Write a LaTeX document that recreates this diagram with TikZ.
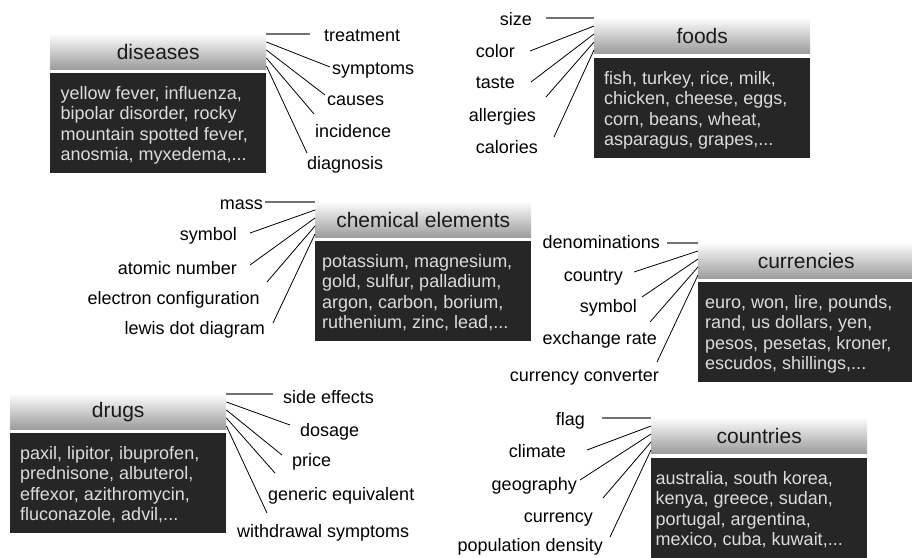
\documentclass[tikz,border=0pt]{standalone}
\usepackage{fontspec}
\setmainfont{Liberation Sans}
\definecolor{hdrtop}{HTML}{FCFCFC}
\definecolor{hdrbot}{HTML}{9C9C9C}
\definecolor{bodydark}{HTML}{262626}
\definecolor{bodylight}{HTML}{DCDCDC}
\definecolor{titlecol}{HTML}{1A1A1A}
\begin{document}
\begin{tikzpicture}[x=1pt,y=-1pt,
  hdr/.style={anchor=north west, minimum width=216pt, minimum height=35pt,
    inner sep=0pt, top color=hdrtop, bottom color=hdrbot, text=titlecol,
    font=\fontsize{21}{24}\selectfont},
  bodybox/.style={anchor=north west, minimum width=216pt, minimum height=100pt,
    inner sep=0pt, fill=bodydark},
  bodytext/.style={anchor=north west, inner sep=0pt, align=left, text=bodylight,
    font=\fontsize{18}{20.5}\selectfont},
  attr/.style={inner sep=0pt, text=black, font=\fontsize{18}{20}\selectfont},
  attrL/.style={attr, anchor=mid east},
  attrR/.style={attr, anchor=mid west},
  lead/.style={draw=black, line width=0.8pt},
  toplead/.style={draw=black!55, line width=1.4pt},
]
\useasboundingbox (0,0) rectangle (912,557);

% ---------- diseases ----------
\node[hdr] (dis-h) at (50,34) {diseases};
\node[bodybox] (dis-b) at (50,73) {};
\node[bodytext] (dis-t) at ([shift={(10.5pt,-12.8pt)}]dis-b.north west)
  {yellow fever, influenza,\\bipolar disorder, rocky\\mountain spotted fever,\\anosmia, myxedema,...};
\node[attrR] (dis-a1) at (324,39) {treatment};
\node[attrR] (dis-a2) at (332,72) {symptoms};
\node[attrR] (dis-a3) at (327,103) {causes};
\node[attrR] (dis-a4) at (315,135) {incidence};
\node[attrR] (dis-a5) at (307,167) {diagnosis};
\draw[toplead] (dis-h.north east) -- ++(44pt,0);
\draw[lead] ([yshift=-8pt]dis-h.north east) -- ([shift={(-2pt,5pt)}]dis-a2.mid west);
\draw[lead] ([yshift=-16pt]dis-h.north east) -- ([shift={(-2pt,8pt)}]dis-a3.mid west);
\draw[lead] ([yshift=-24pt]dis-h.north east) -- ([shift={(-1pt,21pt)}]dis-a4.mid west);
\draw[lead] ([yshift=-32pt]dis-h.north east) -- ([shift={(0pt,14pt)}]dis-a5.mid west);

% ---------- foods ----------
\node[hdr] (foo-h) at (594,18) {foods};
\node[bodybox] (foo-b) at (594,58) {};
\node[bodytext] (foo-t) at ([shift={(10pt,-12.8pt)}]foo-b.north west)
  {fish, turkey, rice, milk,\\chicken, cheese, eggs,\\corn, beans, wheat,\\asparagus, grapes,...};
\node[attrL] (foo-a1) at (532,23) {size};
\node[attrL] (foo-a2) at (515,55) {color};
\node[attrL] (foo-a3) at (515,86) {taste};
\node[attrL] (foo-a4) at (536,119) {allergies};
\node[attrL] (foo-a5) at (538,151) {calories};
\draw[toplead] (foo-h.north west) -- ++(-48pt,0);
\draw[lead] ([yshift=-8pt]foo-h.north west) -- ([shift={(15pt,4pt)}]foo-a2.mid east);
\draw[lead] ([yshift=-16pt]foo-h.north west) -- ([shift={(16pt,4pt)}]foo-a3.mid east);
\draw[lead] ([yshift=-24pt]foo-h.north west) -- ([shift={(10pt,22pt)}]foo-a4.mid east);
\draw[lead] ([yshift=-32pt]foo-h.north west) -- ([shift={(16pt,14pt)}]foo-a5.mid east);

% ---------- chemical elements ----------
\node[hdr] (che-h) at (315,202) {chemical elements};
\node[bodybox] (che-b) at (315,241) {};
\node[bodytext] (che-t) at ([shift={(7pt,-12.8pt)}]che-b.north west)
  {potassium, magnesium,\\gold, sulfur, palladium,\\argon, carbon, borium,\\ruthenium, zinc, lead,...};
\node[attrL] (che-a1) at (263,207) {mass};
\node[attrL] (che-a2) at (237,238) {symbol};
\node[attrL] (che-a3) at (237,272) {atomic number};
\node[attrL] (che-a4) at (260,302) {electron configuration};
\node[attrL] (che-a5) at (265,332) {lewis dot diagram};
\draw[toplead] (che-h.north west) -- ++(-50pt,0);
\draw[lead] ([yshift=-8pt]che-h.north west) -- ([shift={(13pt,5pt)}]che-a2.mid east);
\draw[lead] ([yshift=-16pt]che-h.north west) -- ([shift={(13pt,7pt)}]che-a3.mid east);
\draw[lead] ([yshift=-24pt]che-h.north west) -- ([shift={(7pt,20pt)}]che-a4.mid east);
\draw[lead] ([yshift=-32pt]che-h.north west) -- ([shift={(8pt,9pt)}]che-a5.mid east);

% ---------- currencies ----------
\node[hdr] (cur-h) at (698,243) {currencies};
\node[bodybox] (cur-b) at (698,282) {};
\node[bodytext] (cur-t) at ([shift={(7pt,-12.8pt)}]cur-b.north west)
  {euro, won, lire, pounds,\\rand, us dollars, yen,\\pesos, pesetas, kroner,\\escudos, shillings,...};
\node[attrL] (cur-a1) at (660,246) {denominations};
\node[attrL] (cur-a2) at (623,279) {country};
\node[attrL] (cur-a3) at (637,310) {symbol};
\node[attrL] (cur-a4) at (657,342) {exchange rate};
\node[attrL] (cur-a5) at (659,379) {currency converter};
\draw[toplead] (cur-h.north west) -- ++(-31pt,0);
\draw[lead] ([yshift=-8pt]cur-h.north west) -- ([shift={(11pt,7pt)}]cur-a2.mid east);
\draw[lead] ([yshift=-16pt]cur-h.north west) -- ([shift={(5pt,13pt)}]cur-a3.mid east);
\draw[lead] ([yshift=-24pt]cur-h.north west) -- ([shift={(-7pt,20pt)}]cur-a4.mid east);
\draw[lead] ([yshift=-32pt]cur-h.north west) -- ([shift={(-2pt,17pt)}]cur-a5.mid east);

% ---------- drugs ----------
\node[hdr] (dru-h) at (10,394) {drugs};
\node[bodybox] (dru-b) at (10,433) {};
\node[bodytext] (dru-t) at ([shift={(10pt,-12.8pt)}]dru-b.north west)
  {paxil, lipitor, ibuprofen,\\prednisone, albuterol,\\effexor, azithromycin,\\fluconazole, advil,...};
\node[attrR] (dru-a1) at (283,401) {side effects};
\node[attrR] (dru-a2) at (300,434) {dosage};
\node[attrR] (dru-a3) at (292,464) {price};
\node[attrR] (dru-a4) at (268,498) {generic equivalent};
\node[attrR] (dru-a5) at (237,535) {withdrawal symptoms};
\draw[toplead] (dru-h.north east) -- ++(47pt,0);
\draw[lead] ([yshift=-8pt]dru-h.north east) -- ([shift={(-10pt,9pt)}]dru-a2.mid west);
\draw[lead] ([yshift=-16pt]dru-h.north east) -- ([shift={(-10pt,9pt)}]dru-a3.mid west);
\draw[lead] ([yshift=-24pt]dru-h.north east) -- ([shift={(7pt,25pt)}]dru-a4.mid west);
\draw[lead] ([yshift=-32pt]dru-h.north east) -- ([shift={(30pt,22pt)}]dru-a5.mid west);

% ---------- countries ----------
\node[hdr] (cou-h) at (651,418) {countries};
\node[bodybox] (cou-b) at (651,458) {};
\node[bodytext] (cou-t) at ([shift={(4.5pt,-12.8pt)}]cou-b.north west)
  {australia, south korea,\\kenya, greece, sudan,\\portugal, argentina,\\mexico, cuba, kuwait,...};
\node[attrL] (cou-a1) at (585,423) {flag};
\node[attrL] (cou-a2) at (566,455) {climate};
\node[attrL] (cou-a3) at (577,488) {geography};
\node[attrL] (cou-a4) at (593,520) {currency};
\node[attrL] (cou-a5) at (603,549) {population density};
\draw[toplead] (cou-h.north west) -- ++(-49pt,0);
\draw[lead] ([yshift=-8pt]cou-h.north west) -- ([shift={(21pt,5pt)}]cou-a2.mid east);
\draw[lead] ([yshift=-16pt]cou-h.north west) -- ([shift={(3pt,8pt)}]cou-a3.mid east);
\draw[lead] ([yshift=-24pt]cou-h.north west) -- ([shift={(10pt,22pt)}]cou-a4.mid east);
\draw[lead] ([yshift=-32pt]cou-h.north west) -- ([shift={(7pt,12pt)}]cou-a5.mid east);
\end{tikzpicture}
\end{document}
